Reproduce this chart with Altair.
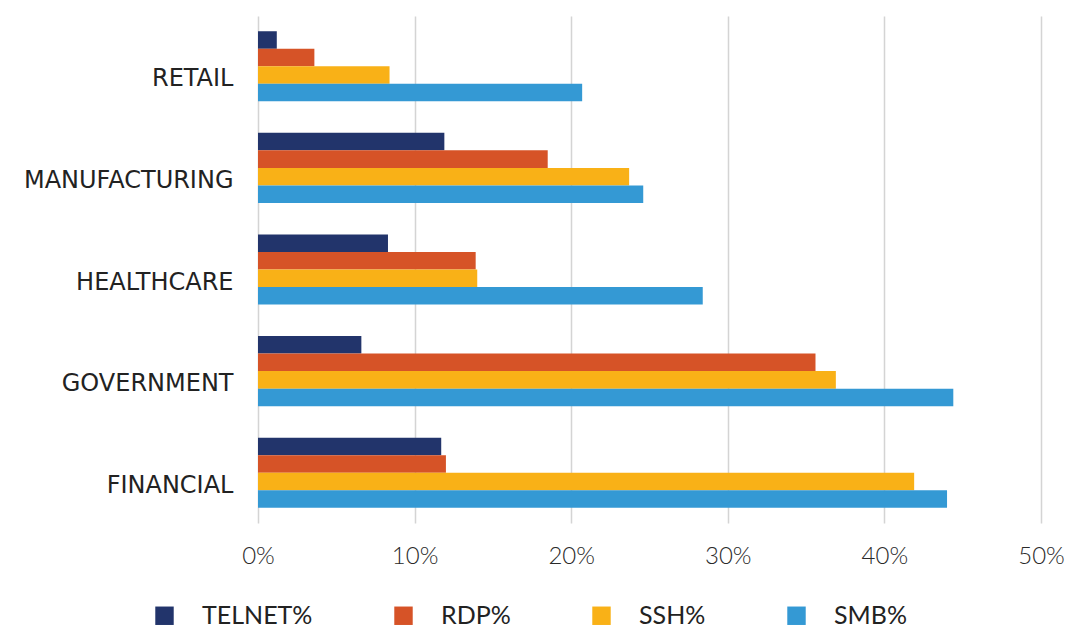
import altair as alt
import pandas as pd

# Share of exposed services by sector (percent)
sectors = ["RETAIL", "MANUFACTURING", "HEALTHCARE", "GOVERNMENT", "FINANCIAL"]
protocols = ["TELNET%", "RDP%", "SSH%", "SMB%"]
telnet = [1.2, 11.9, 8.3, 6.6, 11.7]
rdp = [3.6, 18.5, 13.9, 35.6, 12.0]
ssh = [8.4, 23.7, 14.0, 36.9, 41.9]
smb = [20.7, 24.6, 28.4, 44.4, 44.0]
colors = ["#22346b", "#d65327", "#f9b117", "#3499d4"]

rows = []
for series, vals in zip(protocols, [telnet, rdp, ssh, smb]):
    for sector, v in zip(sectors, vals):
        rows.append({"sector": sector, "protocol": series, "value": v / 100})
df = pd.DataFrame(rows)

chart = (
    alt.Chart(df)
    .mark_bar()
    .encode(
        x=alt.X(
            "value:Q",
            scale=alt.Scale(domain=[0, 0.5], nice=False),
            axis=alt.Axis(
                format=".0%",
                values=[0, 0.1, 0.2, 0.3, 0.4, 0.5],
                title=None,
                domain=False,
                ticks=False,
                grid=True,
                gridColor="#d4d4d4",
                gridWidth=1.5,
                labelFlush=False,
                labelFont="Lato",
                labelFontWeight=300,
                labelFontSize=24,
                labelColor="#2a2a2a",
                labelPadding=21,
            ),
        ),
        y=alt.Y(
            "sector:N",
            sort=sectors,
            scale=alt.Scale(paddingInner=0.31, paddingOuter=0.15),
            axis=alt.Axis(
                title=None,
                domain=False,
                ticks=False,
                labelLimit=0,
                labelFont="DejaVu Sans",
                labelFontSize=24,
                labelColor="#222222",
                labelPadding=25,
                labelOffset=13,
            ),
        ),
        yOffset=alt.YOffset("protocol:N", sort=protocols, scale=alt.Scale(paddingInner=0, paddingOuter=0)),
        color=alt.Color(
            "protocol:N",
            sort=protocols,
            scale=alt.Scale(domain=protocols, range=colors),
            legend=alt.Legend(
                title=None,
                orient="none",
                direction="horizontal",
                legendX=-106,
                legendY=587,
                padding=0,
                symbolType="square",
                symbolSize=340,
                symbolStrokeWidth=0,
                labelFont="Lato",
                labelFontSize=25,
                labelColor="#222222",
                labelOffset=25,
                columnPadding=78,
            ),
        ),
    )
    .properties(
        width=783,
        height=507,
        background="white",
        autosize=alt.AutoSizeParams(type="none"),
        padding={"left": 258, "top": 16, "right": 26, "bottom": 105},
    )
    .configure_view(stroke=None)
)

chart.save("out.html", embed_options={"renderer": "svg", "actions": False})
